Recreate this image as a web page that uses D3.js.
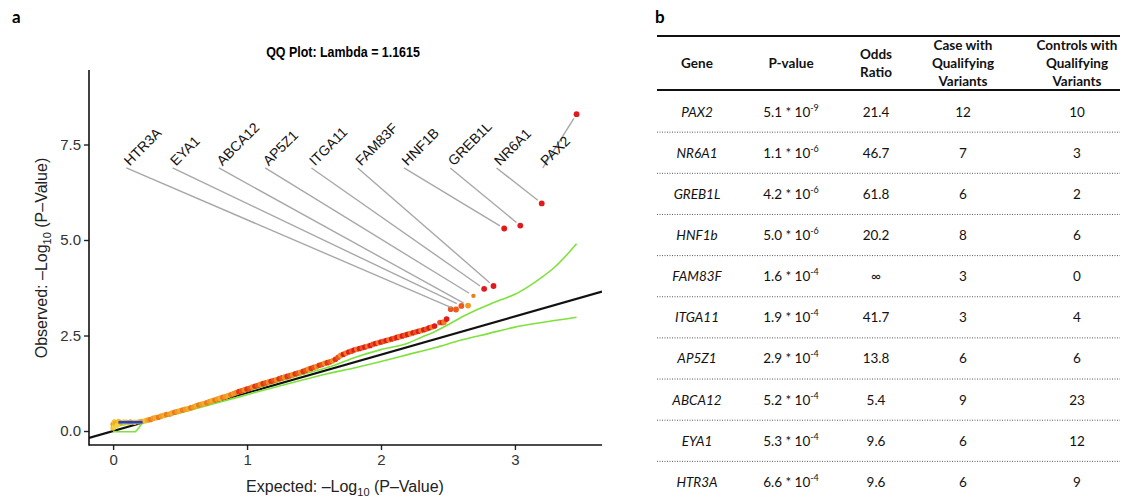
<!DOCTYPE html>
<html>
<head>
<meta charset="utf-8">
<script src="https://cdn.jsdelivr.net/npm/d3@7"></script>
<style>
  body { margin: 0; background: #fff; }
  svg { display: block; }
</style>
</head>
<body>
<svg id="fig" width="1126" height="499"></svg>
<script>
// ---- Gene-level burden test results (most significant first) ----
const genes = ["PAX2", "NR6A1", "GREB1L", "HNF1b", "FAM83F", "ITGA11", "AP5Z1", "ABCA12", "EYA1", "HTR3A"];
const geneLabels = ["PAX2", "NR6A1", "GREB1L", "HNF1B", "FAM83F", "ITGA11", "AP5Z1", "ABCA12", "EYA1", "HTR3A"];
const pMantissa = ["5.1", "1.1", "4.2", "5.0", "1.6", "1.9", "2.9", "5.2", "5.3", "6.6"];
const pExponent = [-9, -6, -6, -6, -4, -4, -4, -4, -4, -4];
const oddsRatio = ["21.4", "46.7", "61.8", "20.2", "\u221E", "41.7", "13.8", "5.4", "9.6", "9.6"];
const casesQualifying = [12, 7, 6, 8, 3, 3, 6, 9, 6, 6];
const controlsQualifying = [10, 3, 2, 6, 0, 4, 6, 23, 12, 9];
// expected -log10(P) of the labelled genes on the QQ plot
const geneExpected = [3.46, 3.20, 3.04, 2.92, 2.84, 2.77, 2.69, 2.65, 2.60, 2.56];

// ---- Remaining genes on the QQ plot (expected, observed -log10 P) ----
const startExpected = [0.00, 0.00, 0.01, 0.01, 0.02, 0.03, 0.04, 0.06, 0.08, 0.10, 0.13, 0.16, 0.19, 0.21];
const startObserved = [0.08, 0.18, 0.12, 0.24, 0.20, 0.15, 0.25, 0.22, 0.24, 0.23, 0.24, 0.23, 0.24, 0.25];
const bulkExpected = [
  0.24, 0.26, 0.28, 0.30, 0.32, 0.34, 0.36, 0.38, 0.40, 0.42, 0.44, 0.46, 0.48, 0.50,
  0.52, 0.54, 0.56, 0.58, 0.60, 0.62, 0.64, 0.66, 0.68, 0.70, 0.72, 0.74, 0.76, 0.78,
  0.80, 0.82, 0.84, 0.86, 0.88, 0.90, 0.92, 0.94, 0.96, 0.98, 1.00, 1.02, 1.04, 1.06,
  1.08, 1.10, 1.12, 1.14, 1.16, 1.18, 1.20, 1.22, 1.24, 1.26, 1.28, 1.30, 1.32, 1.34,
  1.36, 1.38, 1.40, 1.42, 1.44, 1.46, 1.48, 1.50, 1.52, 1.54, 1.56, 1.58, 1.60, 1.62,
  1.64, 1.66, 1.68, 1.70, 1.72, 1.74, 1.76, 1.78, 1.80, 1.82, 1.84, 1.86, 1.88, 1.90,
  1.92, 1.94, 1.96, 1.98, 2.00, 2.02, 2.04, 2.06, 2.08, 2.10, 2.12, 2.14, 2.16, 2.18,
  2.20, 2.22, 2.24, 2.26, 2.28, 2.30, 2.32, 2.34, 2.36, 2.38, 2.40, 2.44, 2.46, 2.47,
  2.49, 2.52
];
const bulkObserved = [
  0.27, 0.29, 0.30, 0.33, 0.35, 0.36, 0.39, 0.41, 0.43, 0.44, 0.47, 0.49, 0.51, 0.53,
  0.55, 0.57, 0.58, 0.61, 0.63, 0.66, 0.68, 0.70, 0.72, 0.74, 0.77, 0.79, 0.81, 0.84,
  0.86, 0.88, 0.90, 0.93, 0.95, 0.98, 1.01, 1.03, 1.05, 1.08, 1.10, 1.12, 1.15, 1.17,
  1.19, 1.22, 1.24, 1.26, 1.28, 1.30, 1.32, 1.34, 1.37, 1.39, 1.41, 1.43, 1.45, 1.47,
  1.50, 1.52, 1.54, 1.56, 1.59, 1.62, 1.64, 1.67, 1.69, 1.72, 1.74, 1.77, 1.79, 1.81,
  1.84, 1.88, 1.93, 1.98, 2.01, 2.04, 2.07, 2.09, 2.12, 2.14, 2.16, 2.18, 2.20, 2.22,
  2.24, 2.27, 2.29, 2.31, 2.33, 2.35, 2.37, 2.39, 2.41, 2.43, 2.45, 2.47, 2.49, 2.51,
  2.53, 2.55, 2.57, 2.59, 2.61, 2.63, 2.65, 2.67, 2.70, 2.72, 2.75, 2.84, 2.84, 2.85,
  2.93, 3.19
];

// ---- Reference lines ----
const blueExpected = [0.04, 0.22];
const blueObserved = [0.23, 0.23];
const upperExpected = [0.00, 0.20, 0.50, 0.80, 1.00, 1.20, 1.40, 1.60, 1.80, 2.00, 2.20, 2.30, 2.40, 2.50, 2.60, 2.70, 2.80, 2.90, 3.00, 3.10, 3.20, 3.30, 3.40, 3.46];
const upperObserved = [0.12, 0.24, 0.52, 0.84, 1.04, 1.26, 1.47, 1.66, 1.92, 2.13, 2.30, 2.45, 2.60, 2.78, 2.98, 3.15, 3.30, 3.44, 3.58, 3.78, 4.02, 4.30, 4.66, 4.90];
const lowerExpected = [0.00, 0.16, 0.22, 0.50, 0.80, 1.00, 1.20, 1.40, 1.60, 1.80, 2.00, 2.20, 2.40, 2.60, 2.80, 3.00, 3.20, 3.46];
const lowerObserved = [-0.02, -0.02, 0.20, 0.47, 0.76, 0.95, 1.14, 1.32, 1.50, 1.65, 1.82, 2.00, 2.18, 2.38, 2.55, 2.72, 2.84, 2.98];

const xTicks = [0, 1, 2, 3];
const yTicks = [0, 2.5, 5, 7.5];
const lambda = "1.1615";

// ================= drawing =================
const svg = d3.select("#fig");
const sansR = "'Liberation Sans', Arial, Helvetica, sans-serif";
const tableFont = "Lato, 'Open Sans', sans-serif";

// panel letters
svg.append("text").attr("x", 12).attr("y", 23).attr("font-family", tableFont)
  .attr("font-weight", 700).attr("font-size", 17).text("a");
svg.append("text").attr("x", 655).attr("y", 23).attr("font-family", tableFont)
  .attr("font-weight", 700).attr("font-size", 17).text("b");

// ---------- panel a: QQ plot ----------
const plot = { left: 89, right: 602, top: 70, bottom: 445 };
const x = d3.scaleLinear().domain([-0.18, 3.65]).range([plot.left, plot.right]);
const y = d3.scaleLinear().domain([-0.366, 9.45]).range([plot.bottom, plot.top]);

svg.append("defs").append("clipPath").attr("id", "panel")
  .append("rect").attr("x", plot.left).attr("y", plot.top)
  .attr("width", plot.right - plot.left).attr("height", plot.bottom - plot.top);

// condensed bold title
svg.append("text").attr("transform", "translate(343,57) scale(0.83,1)").attr("text-anchor", "middle")
  .attr("font-family", sansR).attr("font-weight", 700).attr("font-size", 15)
  .text("QQ Plot: Lambda = " + lambda);

const g = svg.append("g");
const inner = g.append("g").attr("clip-path", "url(#panel)");
const line = d3.line().x(d => x(d[0])).y(d => y(d[1]));

// identity line
inner.append("path").datum(x.domain().map(v => [v, v]))
  .attr("d", line).attr("stroke", "#111").attr("stroke-width", 2.1).attr("fill", "none");

// confidence envelope
[[upperExpected, upperObserved], [lowerExpected, lowerObserved]].forEach(([ex, ob]) => {
  inner.append("path").datum(ex.map((v, i) => [v, ob[i]]))
    .attr("d", line.curve(d3.curveMonotoneX)).attr("stroke", "#7ee23c").attr("stroke-width", 1.6)
    .attr("fill", "none").attr("stroke-linejoin", "round");
});
line.curve(d3.curveLinear);

// points
function bulkColor(o, i) {
  if (o < 0.3) return ["#f3c22c", "#f0a326", "#f5d040"][i % 3];
  if (o < 1.0) return ["#f29a22", "#efae2c", "#ec7a1e"][i % 3];
  if (o < 2.0) return ["#e8561c", "#f08c22", "#e2321a"][i % 3];
  return ["#e31a1c", "#e8561c", "#e31a1c", "#f07a20"][i % 4];
}
const startPts = startExpected.map((v, i) => ({ e: v, o: startObserved[i] }));
const bulkPts = bulkExpected.map((v, i) => ({ e: v, o: bulkObserved[i] }));
inner.selectAll("circle.start").data(startPts).join("circle").attr("class", "start")
  .attr("cx", d => x(d.e)).attr("cy", d => y(d.o)).attr("r", 2.7)
  .attr("fill", (d, i) => bulkColor(d.o, i));
inner.selectAll("circle.bulk").data(bulkPts).join("circle").attr("class", "bulk")
  .attr("cx", d => x(d.e)).attr("cy", d => y(d.o)).attr("r", 2.8)
  .attr("fill", (d, i) => bulkColor(d.o, i));

// blue segment near the origin
inner.append("path").datum(blueExpected.map((v, i) => [v, blueObserved[i]]))
  .attr("d", line).attr("stroke", "#1d3fd6").attr("stroke-width", 2.6).attr("fill", "none");

// labelled genes
const genePts = genes.map((gname, i) => ({
  gene: geneLabels[i],
  e: geneExpected[i],
  o: -Math.log10(parseFloat(pMantissa[i]) * Math.pow(10, pExponent[i]))
}));
function geneColor(d) {
  if (d.o > 3.6) return "#e31a1c";
  if (d.o > 3.4) return "#f07a20";
  if (d.o > 3.25) return d.e > 2.62 ? "#f39a22" : "#ec5a1c";
  return "#ec5a1c";
}

// repelled labels: laid out left to right in order of increasing significance
const labelOrder = genePts.slice().reverse();
const labelStartE = 0.08, labelStepE = 0.3455, labelO = 7.03;
labelOrder.forEach((d, k) => {
  d.lx = x(labelStartE + k * labelStepE);
  d.ly = y(labelO);
});
const segs = g.append("g");
labelOrder.forEach(d => {
  const sx = d.lx + 2.5, sy = d.ly + 5.5;
  const px = x(d.e), py = y(d.o);
  const len = Math.hypot(px - sx, py - sy);
  const shrink = 5;
  segs.append("line").attr("x1", sx).attr("y1", sy)
    .attr("x2", px - (px - sx) * shrink / len).attr("y2", py - (py - sy) * shrink / len)
    .attr("stroke", "#a8a8a8").attr("stroke-width", 1.4);
});
g.selectAll("circle.gene").data(genePts).join("circle").attr("class", "gene")
  .attr("cx", d => x(d.e)).attr("cy", d => y(d.o))
  .attr("r", d => (d.o > 3.4 && d.o < 3.6) ? 2.2 : 2.9)
  .attr("fill", geneColor);
g.selectAll("text.glab").data(labelOrder).join("text").attr("class", "glab")
  .attr("transform", d => `translate(${d.lx + 6},${d.ly + 4}) rotate(-45)`)
  .attr("font-family", sansR).attr("font-size", 14).attr("fill", "#111")
  .text(d => d.gene);

// axes
const xAxis = g.append("g").attr("transform", `translate(0,${plot.bottom})`)
  .call(d3.axisBottom(x).tickValues(xTicks).tickFormat(d3.format("d")).tickSize(5).tickPadding(4));
const yAxis = g.append("g").attr("transform", `translate(${plot.left},0)`)
  .call(d3.axisLeft(y).tickValues(yTicks).tickFormat(d3.format(".1f")).tickSize(5).tickPadding(3));
[xAxis, yAxis].forEach(a => {
  a.select(".domain").remove();
  a.selectAll(".tick line").attr("stroke", "#222").attr("stroke-width", 1.4);
  a.selectAll(".tick text").attr("font-family", sansR).attr("font-size", 15).attr("fill", "#333");
});
g.append("line").attr("x1", plot.left).attr("x2", plot.left).attr("y1", plot.top).attr("y2", plot.bottom + 0.7)
  .attr("stroke", "#111").attr("stroke-width", 1.6);
g.append("line").attr("x1", plot.left).attr("x2", plot.right).attr("y1", plot.bottom).attr("y2", plot.bottom)
  .attr("stroke", "#111").attr("stroke-width", 1.6);

function axisTitle(sel, prefix) {
  sel.append("tspan").text(prefix + ": \u2013Log");
  sel.append("tspan").attr("font-size", 11).attr("dy", 4).text("10");
  sel.append("tspan").attr("dy", -4).text(" (P\u2013Value)");
}
const xt = svg.append("text").attr("x", 345).attr("y", 492).attr("text-anchor", "middle")
  .attr("font-family", sansR).attr("font-size", 16).attr("fill", "#222");
axisTitle(xt, "Expected");
const yt = svg.append("text").attr("transform", "translate(47,258) rotate(-90)").attr("text-anchor", "middle")
  .attr("font-family", sansR).attr("font-size", 16).attr("fill", "#222");
axisTitle(yt, "Observed");

// ---------- panel b: results table ----------
const tbl = svg.append("g");
const tLeft = 657, tRight = 1120;
const colX = [697, 791, 876, 963, 1077];
const rowBand = d3.scaleBand().domain(genes).range([91, 502.5]);
const fs = 13.5;

tbl.append("line").attr("x1", tLeft).attr("x2", tRight).attr("y1", 36).attr("y2", 36)
  .attr("stroke", "#111").attr("stroke-width", 2);
tbl.append("line").attr("x1", tLeft).attr("x2", tRight).attr("y1", 90).attr("y2", 90)
  .attr("stroke", "#111").attr("stroke-width", 2);

const headers = [["Gene"], ["P-value"], ["Odds", "Ratio"], ["Case with", "Qualifying", "Variants"], ["Controls with", "Qualifying", "Variants"]];
headers.forEach((lines, c) => {
  const lh = 18;
  const y0 = 63 - (lines.length - 1) * lh / 2;
  const t = tbl.append("text").attr("text-anchor", "middle").attr("font-family", tableFont)
    .attr("font-weight", 700).attr("font-size", fs).attr("fill", "#111");
  lines.forEach((s, j) => t.append("tspan").attr("x", colX[c]).attr("y", y0 + j * lh + 5).text(s));
});

genes.forEach((gname, i) => {
  const cy = rowBand(gname) + rowBand.bandwidth() / 2 + 5;
  const row = tbl.append("g");
  row.append("text").attr("x", colX[0]).attr("y", cy).attr("text-anchor", "middle")
    .attr("font-family", tableFont).attr("font-style", "italic").attr("font-size", fs).attr("fill", "#111")
    .text(gname);
  const pt = row.append("text").attr("x", colX[1]).attr("y", cy).attr("text-anchor", "middle")
    .attr("font-family", tableFont).attr("font-size", fs).attr("fill", "#111");
  pt.append("tspan").text(pMantissa[i] + " * 10");
  pt.append("tspan").attr("font-size", 9).attr("dy", -6).text(String(pExponent[i]));
  row.append("text").attr("x", colX[2]).attr("y", cy).attr("text-anchor", "middle")
    .attr("font-family", tableFont).attr("font-size", fs).attr("fill", "#111").text(oddsRatio[i]);
  row.append("text").attr("x", colX[3]).attr("y", cy).attr("text-anchor", "middle")
    .attr("font-family", tableFont).attr("font-size", fs).attr("fill", "#111").text(casesQualifying[i]);
  row.append("text").attr("x", colX[4]).attr("y", cy).attr("text-anchor", "middle")
    .attr("font-family", tableFont).attr("font-size", fs).attr("fill", "#111").text(controlsQualifying[i]);
  if (i < genes.length - 1) {
    const sy = rowBand(gname) + rowBand.bandwidth();
    tbl.append("line").attr("x1", tLeft).attr("x2", tRight).attr("y1", sy).attr("y2", sy)
      .attr("stroke", "#555").attr("stroke-width", 1).attr("stroke-dasharray", "1,1.5");
  }
});
</script>
</body>
</html>
